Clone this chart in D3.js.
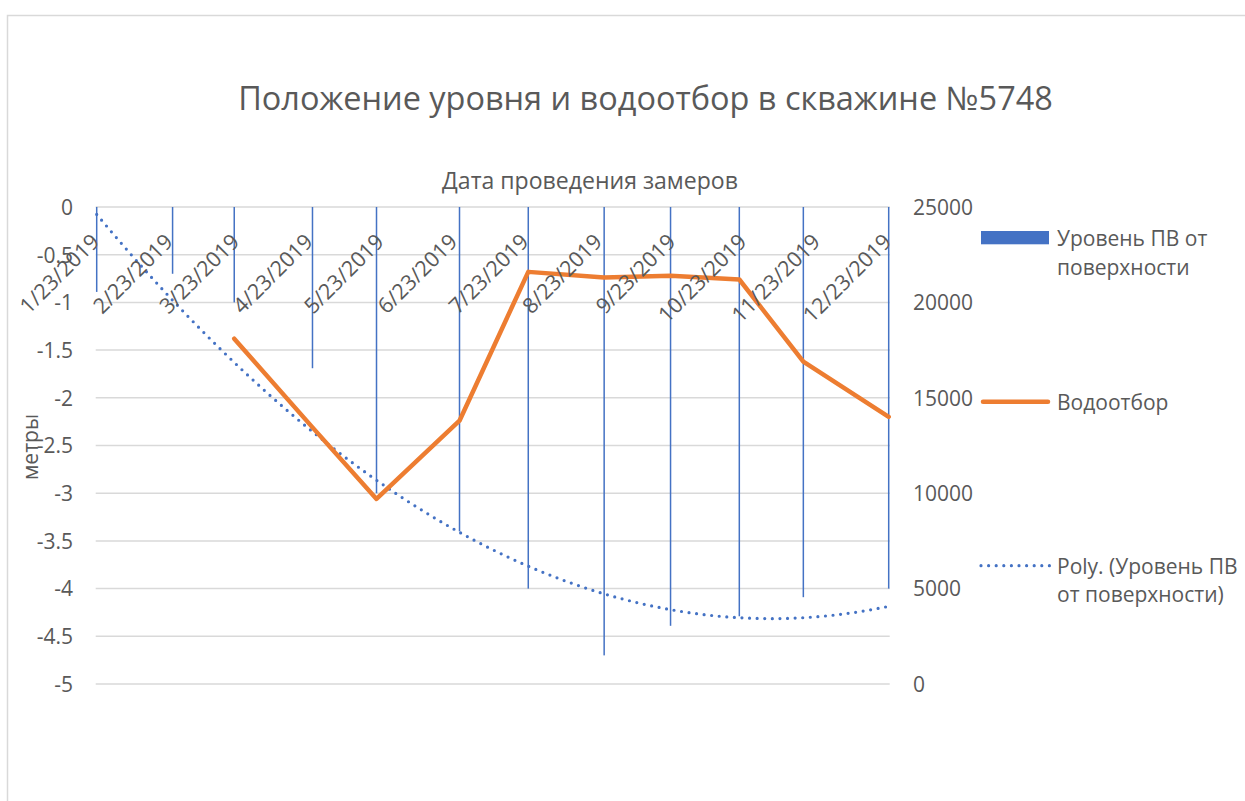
<!DOCTYPE html>
<html>
<head>
<meta charset="utf-8">
<script src="https://cdnjs.cloudflare.com/ajax/libs/d3/7.8.5/d3.min.js"></script>
<style>
  html, body { margin: 0; padding: 0; background: #fff; }
  svg { display: block; }
  text { font-family: "Open Sans", "Noto Sans", sans-serif; fill: #595959; }
</style>
</head>
<body>
<svg id="chart" width="1245" height="801"></svg>
<script>
// ---------------- data ----------------
const chartTitle = "Положение уровня и водоотбор в скважине №5748";
const xAxisTitle = "Дата проведения замеров";
const yAxisTitle = "метры";
const xTickLabels = ["1/23/2019","2/23/2019","3/23/2019","4/23/2019","5/23/2019","6/23/2019",
                     "7/23/2019","8/23/2019","9/23/2019","10/23/2019","11/23/2019","12/23/2019"];
const measureDates = ["2019-01-23","2019-02-24","2019-03-22","2019-04-24","2019-05-21","2019-06-25",
                      "2019-07-24","2019-08-25","2019-09-22","2019-10-21","2019-11-17","2019-12-23"];
const levelValues = [-0.89,-0.70,-1.00,-1.69,-3.00,-3.40,-4.00,-4.70,-4.39,-4.29,-4.09,-4.00];
const waterValues = [null,null,18100,13450,9700,13800,21600,21300,21400,21200,16900,14000];
const leftTicks = [0,-0.5,-1,-1.5,-2,-2.5,-3,-3.5,-4,-4.5,-5];
const rightTicks = [0,5000,10000,15000,20000,25000];
const legendLabels = [["Уровень ПВ от","поверхности"],["Водоотбор"],["Poly. (Уровень ПВ","от поверхности)"]];

// ---------------- layout ----------------
const svg = d3.select("#chart");
const W = 1245, H = 801;
const plot = {left: 96.7, right: 888.7, top: 207, bottom: 684};
const BLUE = "#4472C4", ORANGE = "#ED7D31", GRID = "#D9D9D9", TXT = "#595959";

svg.append("rect").attr("width", W).attr("height", H).attr("fill", "#fff");
// chart border (extends past the right/bottom edge)
svg.append("rect").attr("x", 7.5).attr("y", 15.5).attr("width", 1300).attr("height", 900)
   .attr("fill", "none").attr("stroke", GRID).attr("stroke-width", 1.5);

const parseMDY = d3.timeParse("%m/%d/%Y");
const parseISO = d3.timeParse("%Y-%m-%d");
const tickDates = xTickLabels.map(parseMDY);
const dates = measureDates.map(parseISO);

const x = d3.scaleTime().domain([dates[0], dates[dates.length - 1]]).range([plot.left, plot.right]);
const yL = d3.scaleLinear().domain([-5, 0]).range([plot.bottom, plot.top]);
const yR = d3.scaleLinear().domain([0, 25000]).range([plot.bottom, plot.top]);

function fitText(sel, target) {
  const w = sel.node().getComputedTextLength();
  const fs = parseFloat(sel.attr("font-size"));
  sel.attr("font-size", fs * target / w);
}

// title
const t = svg.append("text").attr("x", 645.5).attr("y", 110).attr("text-anchor", "middle")
  .attr("font-size", 30).text(chartTitle);
fitText(t, 815);

// x axis title
const xt = svg.append("text").attr("x", 590).attr("y", 189).attr("text-anchor", "middle")
  .attr("font-size", 20).text(xAxisTitle);
fitText(xt, 296);

// gridlines (left axis)
svg.append("g").selectAll("line").data(leftTicks).join("line")
  .attr("x1", plot.left - 1).attr("x2", plot.right + 1)
  .attr("y1", d => yL(d)).attr("y2", d => yL(d))
  .attr("stroke", GRID).attr("stroke-width", 1.5);

// left axis labels
const leftAxis = d3.axisLeft(yL).tickValues(leftTicks).tickFormat(d => String(d)).tickSize(0).tickPadding(0);
const gL = svg.append("g").attr("transform", `translate(73,0)`).call(leftAxis);
gL.select(".domain").remove();
gL.selectAll("text").attr("font-size", 21).attr("fill", TXT)
  .attr("font-family", '"Open Sans", sans-serif').attr("dy", "0.35em").attr("x", 0);

// right axis labels
const rightAxis = d3.axisRight(yR).tickValues(rightTicks).tickFormat(d => String(d)).tickSize(0).tickPadding(0);
const gR = svg.append("g").attr("transform", `translate(913,0)`).call(rightAxis);
gR.select(".domain").remove();
gR.selectAll("text").attr("font-size", 21).attr("fill", TXT)
  .attr("font-family", '"Open Sans", sans-serif').attr("dy", "0.35em").attr("x", 0);

// y axis title
svg.append("text").attr("transform", "translate(38,447) rotate(-90)").attr("text-anchor", "middle")
  .attr("font-size", 21).text(yAxisTitle);

// bars (thin columns hanging from 0)
svg.append("g").selectAll("rect").data(levelValues).join("rect")
  .attr("x", (d, i) => x(dates[i]) - 0.75).attr("width", 1.5)
  .attr("y", yL(0)).attr("height", d => yL(d) - yL(0))
  .attr("fill", BLUE);

// polynomial (order 2) trendline, least squares over the measurements
(function () {
  const t0 = dates[0].getTime();
  const xs = dates.map(d => (d.getTime() - t0) / 864e5);
  const ys = levelValues;
  let S = [0,0,0,0,0], T = [0,0,0];
  xs.forEach((xv, i) => {
    for (let k = 0; k < 5; k++) S[k] += Math.pow(xv, k);
    for (let k = 0; k < 3; k++) T[k] += ys[i] * Math.pow(xv, k);
  });
  const A = [[S[0],S[1],S[2]],[S[1],S[2],S[3]],[S[2],S[3],S[4]]];
  const b = T.slice();
  for (let c = 0; c < 3; c++) {
    for (let r = c + 1; r < 3; r++) {
      const f = A[r][c] / A[c][c];
      for (let k = c; k < 3; k++) A[r][k] -= f * A[c][k];
      b[r] -= f * b[c];
    }
  }
  const coef = [0,0,0];
  for (let r = 2; r >= 0; r--) {
    let s = b[r];
    for (let k = r + 1; k < 3; k++) s -= A[r][k] * coef[k];
    coef[r] = s / A[r][r];
  }
  const span = xs[xs.length - 1];
  const pts = d3.range(0, 201).map(i => {
    const dv = span * i / 200;
    return [x(new Date(t0 + dv * 864e5)), yL(coef[0] + coef[1] * dv + coef[2] * dv * dv)];
  });
  svg.append("path").attr("d", d3.line()(pts)).attr("fill", "none")
    .attr("stroke", BLUE).attr("stroke-width", 3.2).attr("stroke-linecap", "round")
    .attr("stroke-dasharray", "0 7.6");
})();

// water withdrawal line
const wl = d3.line().defined(d => d.v != null).x(d => x(d.d)).y(d => yR(d.v));
svg.append("path").attr("d", wl(waterValues.map((v, i) => ({d: dates[i], v}))))
  .attr("fill", "none").attr("stroke", ORANGE).attr("stroke-width", 4.5)
  .attr("stroke-linejoin", "round").attr("stroke-linecap", "round");

// x tick labels
svg.append("g").selectAll("text").data(tickDates).join("text")
  .attr("transform", d => `translate(${x(d) + 4},243) rotate(-45)`)
  .attr("text-anchor", "end").attr("font-size", 21.5)
  .text((d, i) => xTickLabels[i]);

// legend
const lg = svg.append("g");
lg.append("rect").attr("x", 981).attr("y", 231).attr("width", 68).attr("height", 13.3).attr("fill", BLUE);
lg.append("line").attr("x1", 983).attr("x2", 1048).attr("y1", 401.7).attr("y2", 401.7)
  .attr("stroke", ORANGE).attr("stroke-width", 4.5).attr("stroke-linecap", "round");
lg.append("line").attr("x1", 981).attr("x2", 1050).attr("y1", 565.7).attr("y2", 565.7)
  .attr("stroke", BLUE).attr("stroke-width", 3.2).attr("stroke-linecap", "round")
  .attr("stroke-dasharray", "0 7.6");
const legendBase = [[246, 275], [410], [573.5, 602]];
legendLabels.forEach((lines, i) => {
  lines.forEach((s, j) => {
    lg.append("text").attr("x", 1057).attr("y", legendBase[i][j]).attr("font-size", 21).text(s);
  });
});
</script>
</body>
</html>
